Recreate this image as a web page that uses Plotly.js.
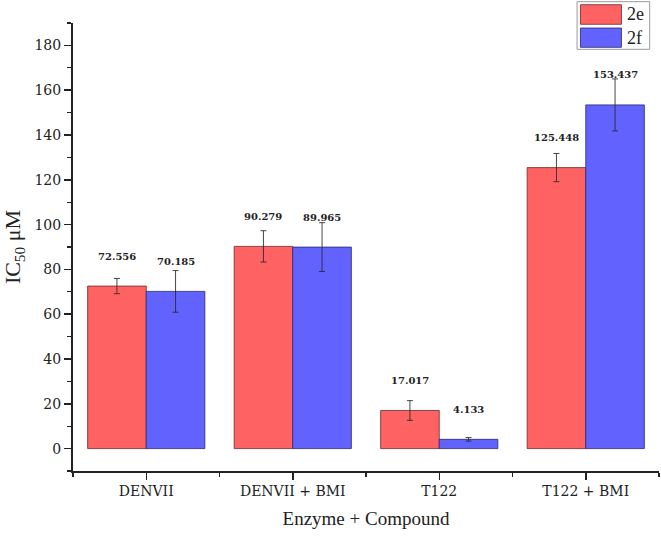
<!DOCTYPE html>
<html>
<head>
<meta charset="utf-8">
<script src="https://cdn.plot.ly/plotly-3.0.1.min.js"></script>
<style>html,body{margin:0;padding:0;background:#fff;}#chart{width:661px;height:536px;}</style>
</head>
<body>
<div id="chart"></div>
<script>
const categories = ["DENVII", "DENVII + BMI", "T122", "T122 + BMI"];
const seriesNames = ["2e", "2f"];
const values2e = [72.556, 90.279, 17.017, 125.448];
const values2f = [70.185, 89.965, 4.133, 153.437];
const errors2e = [3.4, 7.0, 4.4, 6.3];
const errors2f = [9.3, 10.9, 0.8, 11.6];
const yTickVals = [0, 20, 40, 60, 80, 100, 120, 140, 160, 180];

const redFill = "rgb(255,98,98)";
const blueFill = "rgb(98,98,255)";
const positions = categories.map((c, i) => i);

function barTrace(name, vals, errs, fill, edge) {
  return {
    type: "bar",
    name: name,
    x: positions,
    y: vals,
    marker: {color: fill, line: {color: edge, width: 1}},
    error_y: {type: "data", array: errs, visible: true, color: "rgba(40,40,40,0.85)", thickness: 1, width: 3},
    hoverinfo: "x+y"
  };
}

const traces = [
  barTrace(seriesNames[0], values2e, errors2e, redFill, "rgba(110,40,40,0.8)"),
  barTrace(seriesNames[1], values2f, errors2f, blueFill, "rgba(40,40,110,0.8)")
];

const labelFont = {family: "DejaVu Serif", size: 10, color: "#222", weight: "bold"};
const annotations = [];
[[values2e, -0.2], [values2f, 0.2]].forEach(([vals, off]) => {
  vals.forEach((v, i) => {
    annotations.push({
      x: positions[i] + off, y: v, xref: "x", yref: "y",
      text: "<b>" + v.toFixed(3) + "</b>", showarrow: false,
      yshift: 30, font: labelFont
    });
  });
});

// legend drawn as shapes + text (paper coordinates)
const shapes = [
  {type: "rect", xref: "paper", yref: "paper", x0: 0.8602, x1: 0.9841, y0: 0.9413, y1: 1.0476,
   line: {color: "#9a9a9a", width: 1}, fillcolor: "#fff"},
  {type: "rect", xref: "paper", yref: "paper", x0: 0.8660, x1: 0.9359, y0: 0.9971, y1: 1.0409,
   line: {color: "rgba(110,40,40,0.8)", width: 1}, fillcolor: redFill},
  {type: "rect", xref: "paper", yref: "paper", x0: 0.8660, x1: 0.9359, y0: 0.9457, y1: 0.9888,
   line: {color: "rgba(40,40,110,0.8)", width: 1}, fillcolor: blueFill}
];
annotations.push({xref: "paper", yref: "paper", x: 0.9420, y: 1.0190, xanchor: "left", yanchor: "middle",
  text: seriesNames[0], showarrow: false, font: {family: "Liberation Serif", size: 18, color: "#222"}});
annotations.push({xref: "paper", yref: "paper", x: 0.9420, y: 0.9672, xanchor: "left", yanchor: "middle",
  text: seriesNames[1], showarrow: false, font: {family: "Liberation Serif", size: 18, color: "#222"}});

const layout = {
  width: 661, height: 536,
  margin: {l: 73, r: 2, t: 23, b: 65, pad: 0},
  paper_bgcolor: "#fff", plot_bgcolor: "#fff",
  showlegend: false,
  barmode: "group", bargap: 0.2, bargroupgap: 0,
  xaxis: {
    range: [-0.5, 3.5], tickmode: "array", tickvals: positions, ticktext: categories,
    showgrid: false, zeroline: false, showline: true, linecolor: "#222", linewidth: 1.5,
    ticks: "outside", ticklen: 7, tickwidth: 1.5, tickcolor: "#222",
    tickfont: {family: "DejaVu Serif", size: 14, color: "#222"},
    minor: {tickmode: "array", tickvals: [-0.5, 0.5, 1.5, 2.5, 3.5], ticks: "outside", ticklen: 4, tickwidth: 1.2, tickcolor: "#222", showgrid: false},
    title: {text: "Enzyme + Compound", font: {family: "Liberation Serif", size: 19, color: "#222"}, standoff: 13},
    fixedrange: true
  },
  yaxis: {
    range: [-10, 190], tickmode: "array", tickvals: yTickVals,
    showgrid: false, zeroline: false, showline: true, linecolor: "#222", linewidth: 2,
    ticks: "outside", ticklen: 7, tickwidth: 1.5, tickcolor: "#222",
    tickfont: {family: "DejaVu Serif", size: 14, color: "#222"},
    minor: {dtick: 10, tick0: -10, ticks: "outside", ticklen: 4, tickwidth: 1.2, tickcolor: "#222", showgrid: false},
    title: {text: "IC<sub>50</sub> μM", font: {family: "Liberation Serif", size: 22, color: "#222"}, standoff: 12},
    fixedrange: true
  },
  shapes: shapes,
  annotations: annotations
};

Plotly.newPlot("chart", traces, layout, {displayModeBar: false, staticPlot: true});
</script>
</body>
</html>
